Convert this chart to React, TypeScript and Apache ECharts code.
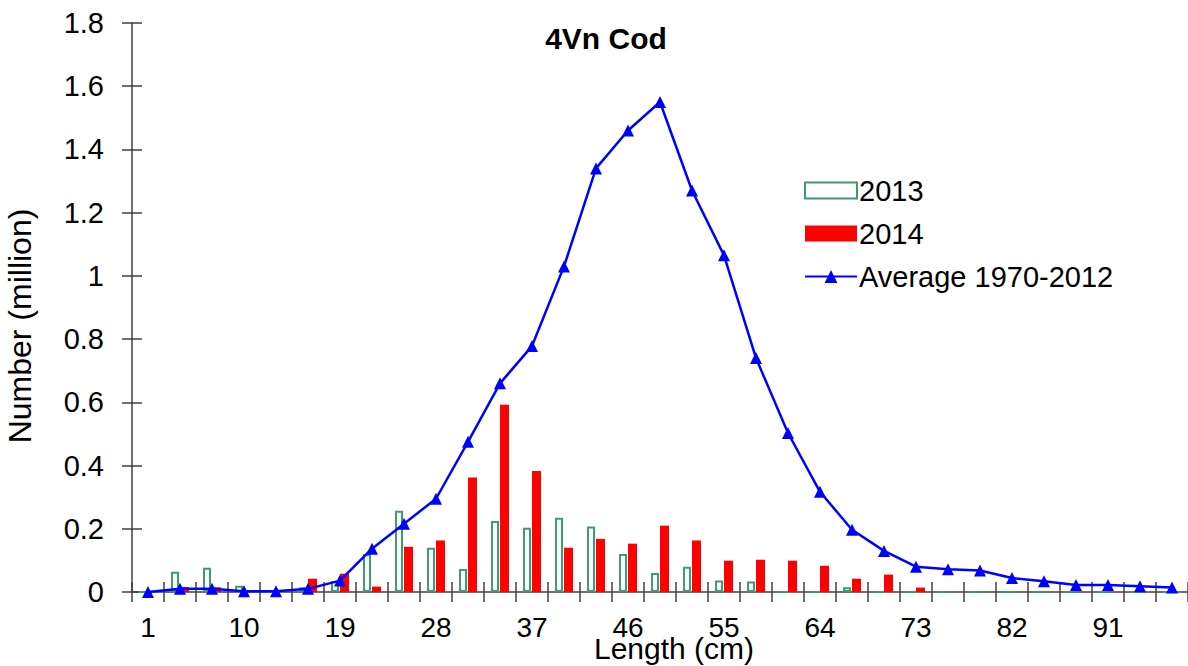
import React, { useEffect, useRef } from "react";
import * as echarts from "echarts";

const categories = [
  "1", "4", "7", "10", "13", "16", "19", "22", "25", "28", "31", "34", "37", "40", "43", "46", "49",
  "52", "55", "58", "61", "64", "67", "70", "73", "76", "79", "82", "85", "88", "91", "94", "97",
];

const values2013 = [
  0, 0.064, 0.077, 0.02, 0, 0.015, 0.035, 0.12, 0.257, 0.14, 0.073, 0.225, 0.203, 0.235, 0.207, 0.12, 0.06,
  0.08, 0.036, 0.033, 0, 0, 0.015, 0, 0, 0, 0, 0, 0, 0, 0, 0, 0,
];

const values2014 = [
  0, 0.016, 0.015, 0, 0, 0.042, 0.058, 0.017, 0.143, 0.163, 0.362, 0.592, 0.383, 0.14, 0.168, 0.153, 0.21,
  0.163, 0.099, 0.102, 0.099, 0.083, 0.042, 0.055, 0.014, 0, 0, 0, 0, 0, 0, 0, 0,
];

const average = [
  0, 0.01, 0.01, 0.002, 0.002, 0.01, 0.036, 0.137, 0.216, 0.295, 0.475, 0.66, 0.778, 1.03, 1.34, 1.46, 1.55,
  1.27, 1.065, 0.74, 0.503, 0.317, 0.197, 0.13, 0.08, 0.072, 0.068, 0.044, 0.034, 0.022, 0.022, 0.018, 0.014,
];

const FONT = '"Liberation Sans", Arial, sans-serif';
const AXIS_COLOR = "#404040";
const GREEN = "#3c9c6c";

export default function App() {
  const ref = useRef<HTMLDivElement>(null);

  useEffect(() => {
    document.body.style.margin = "0";
    if (!ref.current) return;
    const chart = echarts.init(ref.current, undefined, { renderer: "svg" });
    const tickStyle = { color: AXIS_COLOR, width: 1.5 };
    chart.setOption({
      animation: false,
      backgroundColor: "#ffffff",
      textStyle: { fontFamily: FONT },
      grid: { left: 132, top: 23, width: 1059, height: 569, containLabel: false },
      legend: {
        orient: "vertical",
        left: 799,
        top: 171,
        itemWidth: 52,
        itemHeight: 16,
        itemGap: 14,
        textStyle: { fontFamily: FONT, fontSize: 29, color: "#000", padding: [0, 0, 0, -3] },
        data: [
          { name: "2013", icon: "rect", itemStyle: { color: "#ffffff", borderColor: GREEN, borderWidth: 2 } },
          { name: "2014", icon: "rect" },
          { name: "Average 1970-2012" },
        ],
      },
      xAxis: [
        {
          type: "category",
          data: categories,
          position: "bottom",
          boundaryGap: true,
          axisLine: { show: true, lineStyle: { color: AXIS_COLOR, width: 1.5 } },
          axisTick: { show: true, interval: 0, length: 10, lineStyle: tickStyle },
          axisLabel: { interval: 2, fontSize: 28, color: "#000", fontFamily: FONT, margin: 21 },
          splitLine: { show: false },
        },
        {
          type: "category",
          data: categories,
          position: "bottom",
          boundaryGap: true,
          axisLine: { show: false },
          axisTick: { show: true, inside: true, interval: 0, length: 10, lineStyle: tickStyle },
          axisLabel: { show: false },
          splitLine: { show: false },
        },
      ],
      yAxis: [
        {
          type: "value",
          min: 0,
          max: 1.8,
          interval: 0.2,
          position: "left",
          axisLine: { show: true, lineStyle: { color: AXIS_COLOR, width: 1.5 } },
          axisTick: { show: true, length: 10, lineStyle: tickStyle },
          axisLabel: { fontSize: 29, color: "#000", fontFamily: FONT, margin: 28 },
          splitLine: { show: false },
        },
        {
          type: "value",
          min: 0,
          max: 1.8,
          interval: 0.2,
          position: "left",
          axisLine: { show: false },
          axisTick: { show: true, inside: true, length: 10, lineStyle: tickStyle },
          axisLabel: { show: false },
          splitLine: { show: false },
        },
      ],
      graphic: [
        {
          type: "text",
          x: 606,
          y: 38,
          style: {
            text: "4Vn Cod",
            fontFamily: FONT,
            fontSize: 30,
            fontWeight: "bold",
            fill: "#000",
            textAlign: "center",
            textVerticalAlign: "middle",
          },
        },
        {
          type: "text",
          x: 674,
          y: 648,
          style: {
            text: "Length (cm)",
            fontFamily: FONT,
            fontSize: 30,
            fill: "#000",
            textAlign: "center",
            textVerticalAlign: "middle",
          },
        },
        {
          type: "text",
          x: 20,
          y: 326,
          rotation: Math.PI / 2,
          style: {
            text: "Number (million)",
            fontFamily: FONT,
            fontSize: 32,
            fill: "#000",
            textAlign: "center",
            textVerticalAlign: "middle",
          },
        },
      ],
      series: [
        {
          name: "2013",
          type: "bar",
          xAxisIndex: 0,
          yAxisIndex: 0,
          data: values2013,
          barWidth: 8,
          barGap: "12%",
          itemStyle: { color: "#ffffff", borderColor: GREEN, borderWidth: 2 },
        },
        {
          name: "2014",
          type: "bar",
          xAxisIndex: 0,
          yAxisIndex: 0,
          data: values2014,
          barWidth: 9,
          barGap: "12%",
          itemStyle: { color: "#ff0000" },
        },
        {
          name: "Average 1970-2012",
          type: "line",
          xAxisIndex: 0,
          yAxisIndex: 0,
          data: average,
          symbol: "triangle",
          symbolSize: 12,
          lineStyle: { color: "#0000ff", width: 2.5 },
          itemStyle: { color: "#0000ff" },
          z: 5,
        },
      ],
    });
    return () => chart.dispose();
  }, []);

  return <div ref={ref} style={{ width: 1188, height: 666 }} />;
}
